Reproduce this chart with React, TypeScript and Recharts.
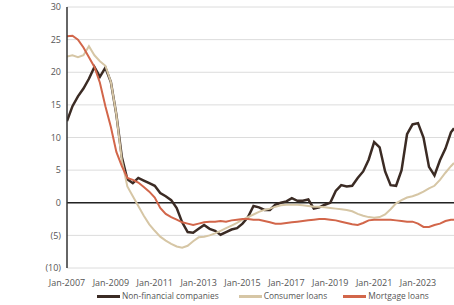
import { LineChart, Line, XAxis, YAxis, CartesianGrid, ReferenceLine, Legend } from 'recharts';

// quarterly readings, decimal years
const dates = [
  2007.0, 2007.25, 2007.5, 2007.75, 2008.0, 2008.25, 2008.5, 2008.75,
  2009.0, 2009.25, 2009.5, 2009.75, 2010.0, 2010.25, 2010.5, 2010.75,
  2011.0, 2011.25, 2011.5, 2011.75, 2012.0, 2012.25, 2012.5, 2012.75,
  2013.0, 2013.25, 2013.5, 2013.75, 2014.0, 2014.25, 2014.5, 2014.75,
  2015.0, 2015.25, 2015.5, 2015.75, 2016.0, 2016.25, 2016.5, 2016.75,
  2017.0, 2017.25, 2017.5, 2017.75, 2018.0, 2018.25, 2018.5, 2018.75,
  2019.0, 2019.25, 2019.5, 2019.75, 2020.0, 2020.25, 2020.5, 2020.75,
  2021.0, 2021.25, 2021.5, 2021.75, 2022.0, 2022.25, 2022.5, 2022.75,
  2023.0, 2023.25, 2023.5, 2023.75, 2024.0, 2024.25, 2024.5, 2024.64,
];

const nonFinancial = [
  12.5, 14.8, 16.3, 17.5, 19.0, 20.8, 19.3, 20.7,
  18.5, 13.5, 7.0, 3.6, 3.0, 3.8, 3.4, 3.0,
  2.6, 1.5, 1.0, 0.4, -0.8, -3.0, -4.5, -4.6,
  -4.0, -3.4, -4.0, -4.3, -4.9, -4.5, -4.1, -3.9,
  -3.2, -2.2, -0.5, -0.7, -1.1, -1.1, -0.3, 0.0,
  0.2, 0.7, 0.3, 0.3, 0.5, -0.9, -0.7, -0.3,
  0.0, 1.8, 2.7, 2.5, 2.6, 3.8, 4.8, 6.6,
  9.3, 8.5, 4.8, 2.7, 2.6, 5.0, 10.5, 12.0,
  12.2, 10.0, 5.5, 4.2, 6.5, 8.3, 10.8, 11.4,
];

const consumer = [
  22.4, 22.6, 22.3, 22.6, 24.0, 22.6, 21.7, 21.0,
  18.5, 13.5, 6.5, 2.5, 1.0, -0.5, -2.0, -3.3,
  -4.3, -5.2, -5.8, -6.3, -6.7, -6.9, -6.6, -5.9,
  -5.3, -5.2, -5.0, -4.7, -4.3, -3.9, -3.5, -3.1,
  -2.6, -2.2, -1.8, -1.4, -1.1, -0.9, -0.6, -0.4,
  -0.3, -0.3, -0.3, -0.4, -0.5, -0.6, -0.6, -0.7,
  -0.8, -0.9, -1.0, -1.1, -1.3, -1.7, -2.0, -2.2,
  -2.3, -2.2, -1.8, -1.0, -0.1, 0.4, 0.8, 1.0,
  1.3, 1.7, 2.2, 2.6, 3.5, 4.6, 5.6, 6.1,
];

const mortgage = [
  25.5, 25.6, 25.0, 23.8, 22.3, 20.8, 18.4, 14.8,
  11.6, 7.8, 5.6, 3.8, 3.5, 3.1, 2.4, 1.7,
  0.8, -0.8, -1.7, -2.2, -2.6, -3.0, -3.2, -3.4,
  -3.2, -3.0, -2.9, -2.9, -2.8, -2.9, -2.7, -2.6,
  -2.5, -2.5, -2.6, -2.6, -2.8, -3.0, -3.2, -3.2,
  -3.1, -3.0, -2.9, -2.8, -2.7, -2.6, -2.5, -2.5,
  -2.6, -2.7, -2.9, -3.1, -3.3, -3.4, -3.1, -2.7,
  -2.6, -2.6, -2.6, -2.6, -2.7, -2.8, -2.9, -2.9,
  -3.2, -3.7, -3.7, -3.4, -3.2, -2.8, -2.6, -2.6,
];

const xTicks = [2007, 2009, 2011, 2013, 2015, 2017, 2019, 2021, 2023];
const yTicks = [-10, -5, 0, 5, 10, 15, 20, 25, 30];

const series = [
  { key: 'nonFinancial', name: 'Non-financial companies', color: '#3b2b24', width: 2.5 },
  { key: 'consumer', name: 'Consumer loans', color: '#d6c6a5', width: 2 },
  { key: 'mortgage', name: 'Mortgage loans', color: '#d2664a', width: 2 },
];

const data = dates.map((d, i) => ({
  date: d,
  nonFinancial: nonFinancial[i],
  consumer: consumer[i],
  mortgage: mortgage[i],
}));

const font = '"Open Sans", sans-serif';

function LegendBox() {
  return (
    <div
      style={{
        display: 'flex',
        width: 454,
        paddingLeft: 97,
        paddingTop: 7,
        boxSizing: 'border-box',
        fontFamily: font,
        fontSize: 8.4,
        color: '#555',
        whiteSpace: 'nowrap',
        lineHeight: '12px',
      }}
    >
      {series.map((s, i) => (
        <div key={s.key} style={{ display: 'flex', alignItems: 'center', flexShrink: 0, marginRight: i === 0 ? 20 : 16 }}>
          <span style={{ display: 'inline-block', width: 23, height: 3, background: s.color, marginRight: 2 }} />
          <span>{s.name}</span>
        </div>
      ))}
    </div>
  );
}

export default function App() {
  return (
    <div style={{ position: 'absolute', left: 0, top: 0, background: '#fff' }}>
      <LineChart width={454} height={305} data={data} margin={{ top: 7, right: 0, left: 0, bottom: 0 }}>
        <CartesianGrid horizontal vertical={false} stroke="#dcdcdc" />
        <XAxis
          dataKey="date"
          type="number"
          domain={[2007, 2024.64]}
          ticks={xTicks}
          allowDataOverflow
          tickFormatter={(v) => `Jan-${v}`}
          axisLine={false}
          tickLine={false}
          tickSize={0}
          tickMargin={12}
          height={15}
          interval={0}
          tick={{ fontSize: 9, fill: '#555', fontFamily: font }}
        />
        <YAxis
          domain={[-10, 30]}
          ticks={yTicks}
          interval={0}
          width={67}
          tickFormatter={(v) => (v < 0 ? `(${-v})` : `${v}`)}
          axisLine={{ stroke: '#333', strokeWidth: 1.5 }}
          tickLine={false}
          tickSize={0}
          tickMargin={6}
          tick={{ fontSize: 9, fill: '#555', fontFamily: font }}
        />
        <ReferenceLine y={0} stroke="#222" strokeWidth={1.5} />
        {series.map((s) => (
          <Line
            key={s.key}
            dataKey={s.key}
            name={s.name}
            stroke={s.color}
            strokeWidth={s.width}
            dot={false}
            type="linear"
            isAnimationActive={false}
          />
        ))}
        <Legend verticalAlign="bottom" height={22} content={() => <LegendBox />} />
      </LineChart>
    </div>
  );
}
